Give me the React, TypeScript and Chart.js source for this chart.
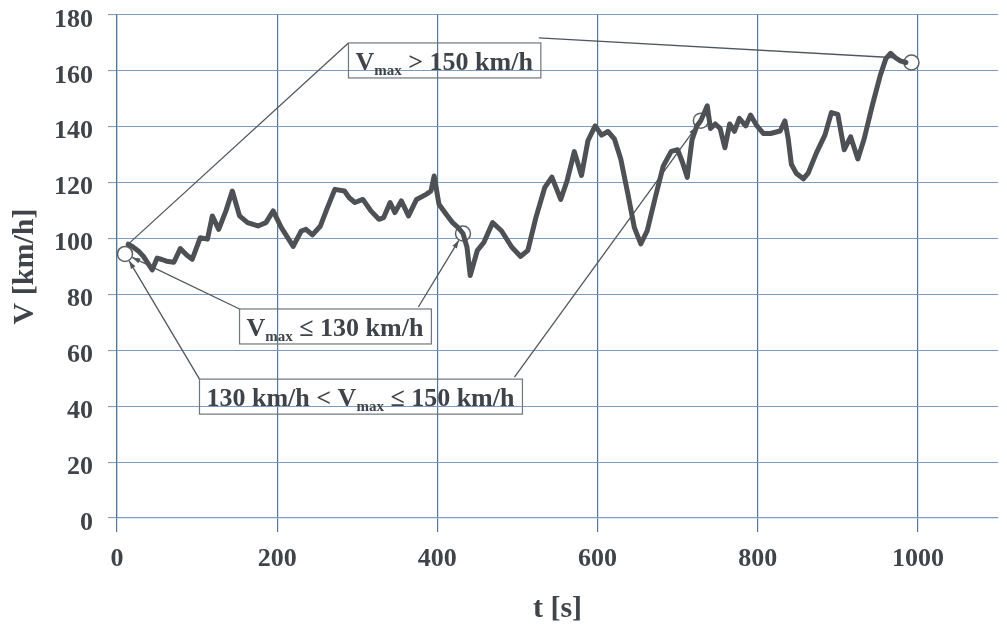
import React, { useEffect, useRef } from "react";
import { Chart, registerables } from "chart.js";

Chart.register(...registerables);

// Speed trace of the test run
const timeS = [
  14, 20, 27, 33, 44, 50, 56, 62, 71, 79,
  87, 94, 104, 113, 119, 127, 136, 144, 153, 163,
  176, 186, 195, 205, 220, 230, 236, 244, 254, 262,
  272, 284, 290, 297, 307, 317, 327, 333, 341, 347,
  355, 364, 374, 386, 392, 396, 402, 411, 419, 426,
  432, 437, 441, 450, 458, 469, 480, 493, 504, 513,
  523, 534, 543, 554, 562, 571, 580, 588, 597, 605,
  613, 621, 629, 638, 646, 654, 662, 672, 682, 692,
  700, 706, 712, 718, 724, 729, 737, 741, 747, 753,
  759, 765, 771, 777, 785, 791, 799, 807, 816, 828,
  834, 838, 842, 848, 857, 863, 873, 884, 892, 900,
  908, 916, 925, 933, 943, 953, 960, 966, 972, 978,
  985,
];
const speedKmh = [
  98, 97, 95.5, 93.6, 88.8, 93, 92.5, 91.9, 91.5, 96.4,
  94.1, 92.6, 100.3, 99.8, 108.1, 103.3, 109.9, 117, 108.1, 105.7,
  104.5, 105.7, 109.9, 104, 97.2, 102.7, 103.3, 101.3, 104.5, 110.5,
  117.6, 117, 114.6, 112.9, 114, 109.9, 106.9, 107.5, 112.9, 109.3,
  113.5, 108.1, 114, 115.8, 117, 122.4, 112.3, 108.7, 105.7, 103.9,
  101.8, 96.9, 86.8, 95.8, 98.6, 105.7, 102.8, 96.9, 93.6, 95.8,
  107.5, 118.2, 122, 114, 120.7, 131.1, 122.6, 135, 140.3, 137,
  138.3, 135.7, 128.5, 115.8, 103.9, 98.1, 102.8, 114.6, 125.9, 131.2,
  131.8, 127.3, 121.9, 135.4, 140.3, 142.2, 147.5, 139.4, 141, 139.4,
  132.5, 141, 138.4, 143, 140.3, 144.2, 140.3, 137.6, 137.6, 138.5,
  142.1, 135.8, 126.6, 123.4, 121.4, 123.4, 130.5, 137.1, 145.1, 144.4,
  131.8, 136.4, 128.5, 135.8, 147.6, 158.4, 164.4, 166.3, 164.7, 163.6,
  163,
];

// Open circles marking the characteristic points
const markerTimes = [10, 432, 729, 992];
const markerSpeeds = [94.5, 101.8, 142.2, 163];

// Axis ticks
const xTickValues = [0, 200, 400, 600, 800, 1000];
const yTickValues = [0, 20, 40, 60, 80, 100, 120, 140, 160, 180];

// Callout texts: [text, isSubscript]
const calloutHigh: [string, boolean][] = [["V", false], ["max", true], [" > 150 km/h", false]];
const calloutLow: [string, boolean][] = [["V", false], ["max", true], [" \u2264 130 km/h", false]];
const calloutMid: [string, boolean][] = [
  ["130 km/h < V", false], ["max", true], [" \u2264 150 km/h", false],
];

const TEXT = "#3e4449";
const GRID_X = "#55789a";
const GRID_Y = "#7e9cc2";
const SERIF = "'Liberation Serif', 'Times New Roman', serif";

type Target = { t: number; v: number; circle: boolean; arrow: boolean };
type Leader = { side: "left" | "right"; inset: number; lift: number; to: Target };
type Callout = { parts: [string, boolean][]; t: number; v: number; leaders: Leader[] };

const marker = (i: number, arrow = true): Target => ({
  t: markerTimes[i], v: markerSpeeds[i], circle: true, arrow,
});
const tracePoint = (i: number): Target => ({
  t: timeS[i], v: speedKmh[i], circle: false, arrow: false,
});

const callouts: Callout[] = [
  {
    parts: calloutHigh, t: 289, v: 170,
    leaders: [
      { side: "left", inset: 0, lift: 0, to: tracePoint(0) },
      { side: "right", inset: 2, lift: 5, to: tracePoint(118) },
    ],
  },
  {
    parts: calloutLow, t: 153, v: 74.8,
    leaders: [
      { side: "left", inset: 0, lift: 0, to: marker(0) },
      { side: "right", inset: 13, lift: 2, to: marker(1) },
    ],
  },
  {
    parts: calloutMid, t: 103, v: 49.7,
    leaders: [
      { side: "left", inset: 0, lift: 0, to: marker(0) },
      { side: "right", inset: 8, lift: 2, to: marker(2) },
    ],
  },
];

const MAIN_FONT = `bold 26px ${SERIF}`;
const SUB_FONT = `bold 15px ${SERIF}`;
const BOX_H = 35;
const PAD_L = 7;
const PAD_R = 8;
const MARKER_R = 7.5;

function measure(ctx: CanvasRenderingContext2D, parts: [string, boolean][]) {
  let w = 0;
  for (const [txt, sub] of parts) {
    ctx.font = sub ? SUB_FONT : MAIN_FONT;
    w += ctx.measureText(txt).width;
  }
  return w;
}

function boxGeom(chart: any, c: Callout) {
  const ctx = chart.ctx as CanvasRenderingContext2D;
  const x = chart.scales.x.getPixelForValue(c.t);
  const y = chart.scales.y.getPixelForValue(c.v);
  const w = measure(ctx, c.parts) + PAD_L + PAD_R;
  return { x, y, w, h: BOX_H };
}

const calloutPlugin = {
  id: "callouts",
  beforeDatasetsDraw(chart: any) {
    const ctx = chart.ctx as CanvasRenderingContext2D;
    ctx.save();
    ctx.strokeStyle = "#4f575e";
    ctx.fillStyle = "#4f575e";
    ctx.lineWidth = 1.3;
    for (const c of callouts) {
      const g = boxGeom(chart, c);
      for (const l of c.leaders) {
        const sx = l.side === "left" ? g.x : g.x + g.w - l.inset;
        const sy = g.y - l.lift;
        let ex = chart.scales.x.getPixelForValue(l.to.t);
        let ey = chart.scales.y.getPixelForValue(l.to.v);
        const dx = ex - sx;
        const dy = ey - sy;
        const len = Math.hypot(dx, dy);
        const ux = dx / len;
        const uy = dy / len;
        if (l.to.circle) {
          ex -= ux * (MARKER_R + 0.5);
          ey -= uy * (MARKER_R + 0.5);
        }
        ctx.beginPath();
        ctx.moveTo(sx, sy);
        ctx.lineTo(ex, ey);
        ctx.stroke();
        if (l.to.arrow) {
          const al = 8;
          const aw = 2.6;
          ctx.beginPath();
          ctx.moveTo(ex, ey);
          ctx.lineTo(ex - ux * al - uy * aw, ey - uy * al + ux * aw);
          ctx.lineTo(ex - ux * al + uy * aw, ey - uy * al - ux * aw);
          ctx.closePath();
          ctx.fill();
        }
      }
    }
    ctx.restore();
  },
  afterDatasetsDraw(chart: any) {
    const ctx = chart.ctx as CanvasRenderingContext2D;
    ctx.save();
    for (const c of callouts) {
      const g = boxGeom(chart, c);
      ctx.strokeStyle = "#6f767c";
      ctx.lineWidth = 1.2;
      ctx.strokeRect(g.x, g.y, g.w, g.h);
      ctx.fillStyle = TEXT;
      ctx.textBaseline = "alphabetic";
      let x = g.x + PAD_L;
      const base = g.y + 27;
      for (const [txt, sub] of c.parts) {
        ctx.font = sub ? SUB_FONT : MAIN_FONT;
        ctx.fillText(txt, x, sub ? base + 5 : base);
        x += ctx.measureText(txt).width;
      }
    }
    ctx.restore();
  },
};

export default function App() {
  const canvasRef = useRef<HTMLCanvasElement | null>(null);

  useEffect(() => {
    const canvas = canvasRef.current;
    if (!canvas) return;
    const chart = new Chart(canvas, {
      type: "line",
      data: {
        datasets: [
          {
            label: "V",
            data: timeS.map((t, i) => ({ x: t, y: speedKmh[i] })),
            borderColor: "#4d5155",
            borderWidth: 5,
            borderJoinStyle: "round",
            borderCapStyle: "round",
            pointRadius: 0,
            tension: 0,
            fill: false,
          },
          {
            label: "markers",
            data: markerTimes.map((t, i) => ({ x: t, y: markerSpeeds[i] })),
            showLine: false,
            pointRadius: MARKER_R,
            pointBackgroundColor: "#ffffff",
            pointBorderColor: "#5b6166",
            pointBorderWidth: 1.5,
          },
        ],
      },
      options: {
        responsive: false,
        animation: false,
        devicePixelRatio: 1,
        layout: { padding: { top: 15, left: 0, right: 0, bottom: 0 } },
        plugins: {
          legend: { display: false },
          tooltip: { enabled: false },
        },
        scales: {
          x: {
            type: "linear",
            min: 0,
            max: 1100,
            afterBuildTicks: (scale: any) => {
              scale.ticks = xTickValues.map((v) => ({ value: v }));
            },
            afterFit: (scale: any) => {
              scale.height = 109;
              scale.paddingLeft = 0;
              scale.paddingRight = 0;
            },
            ticks: {
              color: TEXT,
              font: { family: SERIF, size: 26, weight: "bold" },
              padding: 12,
              maxRotation: 0,
              autoSkip: false,
              callback: (v: any) => String(v),
            },
            grid: { color: GRID_X, lineWidth: 1.2, tickLength: 14, drawTicks: true },
            border: { display: true, color: GRID_Y, width: 1.2 },
            title: {
              display: true,
              text: "t [s]",
              color: TEXT,
              font: { family: SERIF, size: 30, weight: "bold" },
              padding: { top: 0, bottom: 0 },
            },
          },
          y: {
            type: "linear",
            min: 0,
            max: 180,
            afterBuildTicks: (scale: any) => {
              scale.ticks = yTickValues.map((v) => ({ value: v }));
            },
            afterFit: (scale: any) => {
              scale.width = 117;
              scale.paddingTop = 0;
              scale.paddingBottom = 0;
            },
            ticks: {
              color: TEXT,
              font: { family: SERIF, size: 26, weight: "bold" },
              padding: 15,
              labelOffset: 5,
              autoSkip: false,
              callback: (v: any) => String(v),
            },
            grid: { color: GRID_Y, lineWidth: 1.1, tickLength: 9, drawTicks: true },
            border: { display: true, color: GRID_X, width: 1.2 },
            title: {
              display: true,
              text: "V [km/h]",
              color: TEXT,
              font: { family: SERIF, size: 30, weight: "bold" },
              padding: { top: 7, bottom: 0 },
            },
          },
        },
      },
      plugins: [calloutPlugin],
    } as any);
    return () => chart.destroy();
  }, []);

  return (
    <div style={{ position: "fixed", left: 0, top: 0, width: 1007, height: 627, background: "#ffffff" }}>
      <canvas ref={canvasRef} width={1007} height={627} style={{ display: "block" }} />
    </div>
  );
}
